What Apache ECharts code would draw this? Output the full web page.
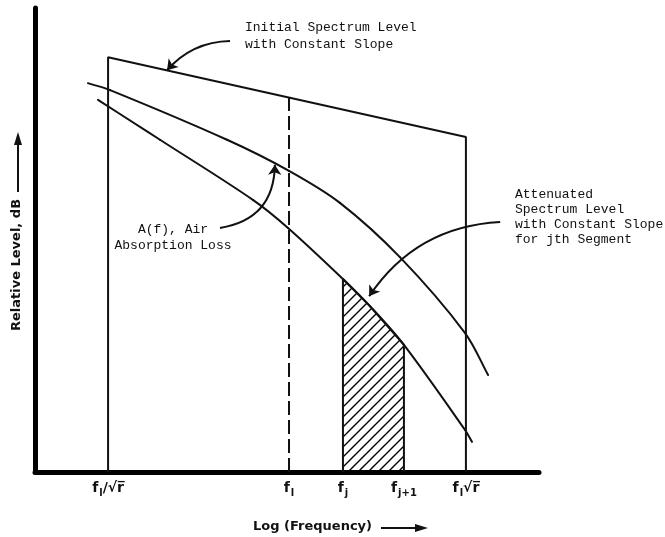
<!DOCTYPE html>
<html>
<head>
<meta charset="utf-8">
<script src="https://cdn.jsdelivr.net/npm/echarts@6/dist/echarts.min.js"></script>
<style>
  html, body { margin: 0; padding: 0; background: #fff; }
  #chart { width: 665px; height: 537px; }
</style>
</head>
<body>
<div id="chart"></div>
<script>
// Horizontal axis: relative log-frequency (0–100); vertical axis: relative level (0–100)
const tickPositions = [14.5, 50.4, 61.1, 73.2, 85.5];
const tickLabels = [
  '{m|f}{s|l}{m|/√r\u0305}',
  '{m|f}{s|l}',
  '{m|f}{s|j}',
  '{m|f}{s|j+1}',
  '{m|f}{s|l}{m|√r\u0305}'
];

// Initial spectrum level: band edges and constant-slope top
const initialX = [14.5, 14.5, 85.5, 85.5];
const initialY = [0, 89.4, 72.2, 0];

// Centre frequency f_l
const centerX = [50.4, 50.4];
const centerY = [0, 80.8];

// Upper curve
const upperX = [10.5, 14.9, 38.1, 50.4, 60.5, 72.4, 85.3, 89.9];
const upperY = [83.8, 82.3, 71.6, 64.9, 58.0, 46.3, 30.0, 20.9];

// Lower curve (level after air absorption)
const lowerX = [12.5, 24.8, 43.3, 50.2, 61.1, 66.5, 73.2, 85.3, 86.7];
const lowerY = [80.2, 71.6, 58.6, 52.6, 41.6, 35.7, 27.4, 9.1, 6.5];

// jth segment between f_j and f_j+1
const segmentX = [61.1, 61.1, 66.5, 73.2, 73.2];
const segmentY = [0, 41.6, 35.7, 27.4, 0];

// Callout arrows: tail, head, bend
const arrowFrom = [[38.7, 92.9], [36.7, 52.6], [92.3, 53.9]];
const arrowTo = [[26.2, 86.6], [47.6, 66.2], [66.3, 37.9]];
const arrowBend = [-0.22, -0.42, -0.25];

const zip = (xs, ys) => xs.map((x, i) => [x, ys[i]]);

function hatchPattern() {
  const c = document.createElement('canvas');
  c.width = 10; c.height = 10;
  const g = c.getContext('2d');
  g.strokeStyle = '#000';
  g.lineWidth = 1.4;
  g.beginPath();
  g.moveTo(-1, 11); g.lineTo(11, -1);
  g.moveTo(-1, 1); g.lineTo(1, -1);
  g.moveTo(9, 11); g.lineTo(11, 9);
  g.stroke();
  return c;
}

const mono = '"Liberation Mono", "DejaVu Sans Mono", monospace';
const boldSans = '"DejaVu Sans", sans-serif';
const ink = '#111';

// Smooth curve through the data points: cubic pieces whose tangents follow
// the neighbouring chord directions, placed with the axes' own coordinates.
function curveSeries(name, xs, ys) {
  return {
    type: 'custom',
    name: name,
    silent: true,
    animation: false,
    clip: false,
    data: zip(xs, ys),
    renderItem: function (params, api) {
      if (params.dataIndex !== 0) return null;
      const p = xs.map((x, i) => api.coord([x, ys[i]]));
      const n = p.length;
      const tan = p.map((_, i) => {
        const a = p[Math.max(i - 1, 0)], b = p[Math.min(i + 1, n - 1)];
        const dx = b[0] - a[0], dy = b[1] - a[1];
        const len = Math.hypot(dx, dy) || 1;
        return [dx / len, dy / len];
      });
      const children = [];
      for (let i = 0; i < n - 1; i++) {
        const d = Math.hypot(p[i + 1][0] - p[i][0], p[i + 1][1] - p[i][1]) / 3;
        children.push({
          type: 'bezierCurve',
          shape: {
            x1: p[i][0], y1: p[i][1],
            x2: p[i + 1][0], y2: p[i + 1][1],
            cpx1: p[i][0] + tan[i][0] * d, cpy1: p[i][1] + tan[i][1] * d,
            cpx2: p[i + 1][0] - tan[i + 1][0] * d, cpy2: p[i + 1][1] - tan[i + 1][1] * d
          },
          style: { stroke: ink, lineWidth: 2, fill: null, lineCap: 'round' }
        });
      }
      return { type: 'group', children: children };
    }
  };
}

const chart = echarts.init(document.getElementById('chart'), null, { renderer: 'canvas' });

const lineBase = {
  type: 'line',
  symbol: 'none',
  showSymbol: false,
  silent: true,
  animation: false
};

chart.setOption({
  animation: false,
  backgroundColor: '#fff',
  grid: { left: 35, right: 126, top: 8, bottom: 65 },
  xAxis: {
    type: 'value', min: 0, max: 100,
    axisLine: { show: true, onZero: false, lineStyle: { color: '#000', width: 5, cap: 'round' } },
    axisTick: { show: false },
    splitLine: { show: false },
    axisLabel: {
      customValues: tickPositions,
      margin: 6,
      formatter: (v) => tickLabels[tickPositions.indexOf(v)] || '',
      rich: {
        m: { fontFamily: boldSans, fontWeight: 'bold', fontSize: 14, color: ink },
        s: { fontFamily: boldSans, fontWeight: 'bold', fontSize: 10, color: ink, padding: [10, 0, 0, 1] }
      }
    }
  },
  yAxis: {
    type: 'value', min: 0, max: 100,
    axisLine: { show: true, onZero: false, lineStyle: { color: '#000', width: 5, cap: 'round' } },
    axisTick: { show: false },
    axisLabel: { show: false },
    splitLine: { show: false }
  },
  series: [
    Object.assign({}, lineBase, {
      name: 'Initial Spectrum Level',
      data: zip(initialX, initialY),
      lineStyle: { color: ink, width: 2 }
    }),
    Object.assign({}, lineBase, {
      name: 'f_l',
      data: zip(centerX, centerY),
      lineStyle: { color: ink, width: 2, type: [14, 5] }
    }),
    Object.assign({}, lineBase, {
      name: 'jth Segment',
      data: zip(segmentX, segmentY),
      lineStyle: { color: ink, width: 2 },
      areaStyle: { color: { image: hatchPattern(), repeat: 'repeat' }, opacity: 1 }
    }),
    curveSeries('Upper curve', upperX, upperY),
    curveSeries('A(f), Air Absorption Loss', lowerX, lowerY),
    {
      type: 'lines',
      coordinateSystem: 'cartesian2d',
      silent: true,
      animation: false,
      symbol: ['none', 'arrow'],
      symbolSize: 10,
      lineStyle: { color: ink, width: 2, opacity: 1 },
      data: arrowFrom.map((p, i) => ({
        coords: [p, arrowTo[i]],
        lineStyle: { curveness: arrowBend[i] }
      }))
    }
  ],
  graphic: [
    {
      type: 'text', left: 245, top: 19,
      style: { text: 'Initial Spectrum Level\nwith Constant Slope', font: '13px ' + mono, fill: ink, lineHeight: 17 }
    },
    {
      type: 'text', x: 173, y: 222,
      style: { text: 'A(f), Air\nAbsorption Loss', font: '13px ' + mono, fill: ink, lineHeight: 16, textAlign: 'center' }
    },
    {
      type: 'text', left: 515, top: 187,
      style: { text: 'Attenuated\nSpectrum Level\nwith Constant Slope\nfor jth Segment', font: '13px ' + mono, fill: ink, lineHeight: 15 }
    },
    // Horizontal axis title with arrow
    {
      type: 'text', x: 253, y: 527,
      style: { text: 'Log (Frequency)', font: 'bold 13px ' + boldSans, fill: ink, textVerticalAlign: 'middle' }
    },
    {
      type: 'line', shape: { x1: 381, y1: 528, x2: 417, y2: 528 },
      style: { stroke: ink, lineWidth: 2 }
    },
    {
      type: 'polygon', shape: { points: [[428, 528], [415, 524], [415, 532]] },
      style: { fill: ink }
    },
    // Vertical axis title with arrow
    {
      type: 'text', x: 17, y: 265, rotation: Math.PI / 2,
      style: { text: 'Relative Level, dB', font: 'bold 13px ' + boldSans, fill: ink, textAlign: 'center', textVerticalAlign: 'middle' }
    },
    {
      type: 'line', shape: { x1: 18, y1: 192, x2: 18, y2: 143 },
      style: { stroke: ink, lineWidth: 2 }
    },
    {
      type: 'polygon', shape: { points: [[18, 132], [14, 145], [22, 145]] },
      style: { fill: ink }
    }
  ]
});
</script>
</body>
</html>
